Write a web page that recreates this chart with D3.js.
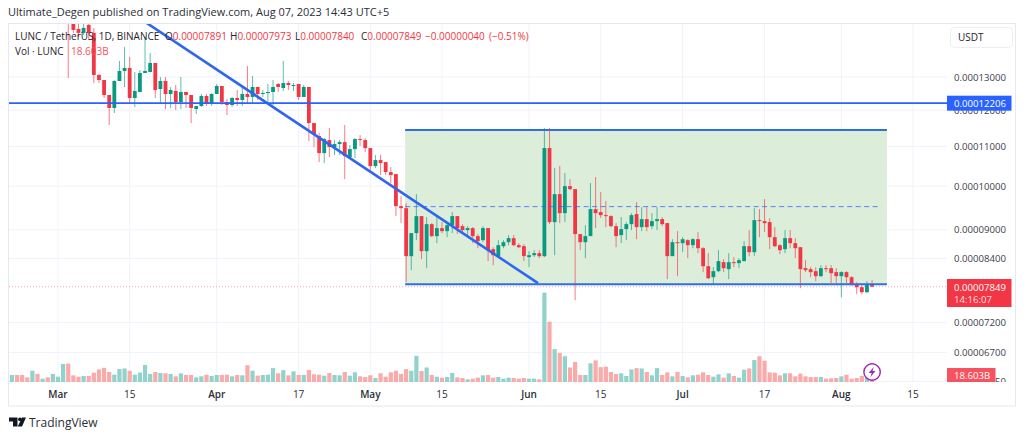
<!DOCTYPE html>
<html><head><meta charset="utf-8">
<script src="https://cdn.jsdelivr.net/npm/d3@7"></script>
<style>html,body{margin:0;padding:0;background:#fff;overflow:hidden}svg{display:block}text{font-family:"Open Sans","Noto Sans",sans-serif}</style>
</head><body>
<script>
// prices are in units of 0.00000001 USDT; days count from 1 March 2023
const firstCandleDay = 2, firstVolumeDay = -9;
const opens = [15300,15200,14594,14455,14736,14455,13063,12906,12449,12066,
12875,13189,13285,12360,12540,13126,13158,13446,12630,12875,
12479,12570,12241,12540,12449,12036,12124,12419,12212,12479,
12722,12241,12153,12360,12300,12479,12390,12691,12479,12509,
12540,12783,12661,12813,12722,12783,12390,12691,11637,11278,
10826,11170,10983,11063,11116,10722,10930,11197,11170,10957,
10492,10645,10594,10341,10292,9528,9482,8448,8929,9302,
8550,9124,8865,9037,8972,9102,9302,9080,8994,9037,
8865,8779,9037,8591,8448,8653,8737,8822,8674,8653,
8428,8468,8509,8448,10957,9169,9808,9369,9998,9927,
8908,8737,8865,9460,9392,9324,9302,9080,8886,9016,
9124,9347,9059,9235,9080,9191,9235,9147,8448,8737,
8716,8779,8674,8800,8611,8246,8031,8148,8327,8188,
8327,8307,8347,8653,8529,9213,9191,9169,8843,8674,
8591,8822,8716,8632,8207,8188,8148,8051,8207,8207,
8129,8051,8129,8031,7897,7840,7746,7891];
const highs = [15500,15400,14800,14806,14900,14630,13100,12906,12449,12900,
13511,13974,13641,13158,13221,14315,13773,13446,13000,13000,
12691,12752,13000,12540,12449,12124,12479,12479,12510,12783,
12722,12330,12390,12600,12661,13349,13031,12691,12600,12783,
12906,12813,13511,12875,12813,12783,12752,12691,11637,11360,
11224,11498,11170,11170,11581,11036,11224,11305,11224,10957,
10774,10774,10594,10467,10292,9761,9597,8929,9808,9302,
9280,9147,9280,9169,9169,9392,9302,9124,9080,9059,
8908,9080,9037,8632,8779,8779,8886,8886,8716,8695,
8550,8570,8570,11498,11498,10441,10492,10316,10168,9927,
8908,9102,10071,10218,9855,9644,9324,9147,9280,9169,
9369,9621,9505,9505,9369,9505,9280,9147,8800,8972,
8843,8800,8822,8951,8632,8509,8227,8570,8387,8509,
8428,8408,8758,8994,9482,9460,9690,9258,9059,8695,
8994,8994,8822,8632,8367,8227,8227,8266,8266,8266,
8207,8148,8148,8051,7935,7897,7954,7973];
const lows = [12969,14455,14315,14385,14213,12813,12813,12360,11581,11921,
12875,12691,12212,12095,12540,13126,13158,12360,12212,12036,
12066,12007,12036,12066,11637,11892,12095,12124,12124,12479,
12153,11863,12095,12124,12124,12182,12212,12300,12390,12212,
12153,12540,12570,12600,12570,12300,12390,11143,10983,10594,
10568,10722,10774,10774,10168,10697,10697,11010,10852,10341,
10441,10267,10267,10071,9302,9147,7935,8168,8779,8387,
8207,8843,8716,8929,8843,8929,8908,8951,8886,8716,
8611,8737,8347,8266,8448,8611,8674,8653,8611,8347,
8227,8428,8408,8428,9124,8468,9147,9169,9903,7598,
8570,8408,8865,9037,9258,9059,9059,8632,8716,8779,
8994,8800,8972,8972,9016,8994,9080,7992,8448,8051,
8529,8408,8611,8509,8129,7992,7897,8129,8129,7992,
8227,8207,8347,8448,8448,8843,8951,8591,8632,8488,
8509,8611,8408,7821,8129,8031,7954,8031,8129,7916,
7916,7653,7916,7878,7708,7708,7727,7840];
const closes = [14850,14559,14455,14630,14455,13063,12906,12449,12066,12875,
13189,13285,12360,12570,13126,13189,13446,12600,12875,12479,
12600,12241,12540,12449,12066,12124,12419,12212,12479,12722,
12241,12153,12360,12300,12479,12390,12691,12479,12509,12540,
12691,12691,12813,12752,12752,12390,12691,11637,11332,10826,
11197,10983,11063,11116,10748,10930,11197,11170,10957,10492,
10645,10568,10341,10267,9528,9482,8448,8929,9302,8550,
9124,8865,9037,8972,9102,9302,9037,8994,9037,8865,
8758,9037,8570,8468,8674,8737,8822,8674,8632,8448,
8468,8509,8448,10957,9169,9808,9369,9998,9927,8908,
8737,8865,9460,9369,9324,9302,9080,8865,9016,9124,
9324,9059,9235,9059,9191,9235,9124,8448,8737,8716,
8800,8674,8800,8611,8246,8012,8148,8347,8207,8327,
8307,8367,8653,8529,9213,9191,9147,8843,8653,8570,
8822,8716,8611,8188,8168,8129,8051,8207,8188,8109,
8051,8129,8031,7878,7840,7746,7891,7849];
// volume in billions, from firstVolumeDay
const volumes = [21.7,21.7,21.7,14.5,35,25,10.3,14.5,25,16.5,56,
57,20.7,16.5,18.6,18.6,29,39,44,31,22.7,
40,42,35,22.7,29,53,25,31,28,27,
25,17.6,27,21.7,21.7,14.5,17.6,22.7,18.6,21.7,
21.7,22.7,17.6,21.7,20.7,52,35,19.6,21.7,22.7,
43,27,37,20.7,33,21.7,21.7,37,23.8,22.7,
19.6,28,21.7,20.7,31,19.6,30,17.6,15.5,20.7,
12.4,27,16.5,30,35,25,40,35,81,34,
45,21.7,16.5,13.4,15.5,28,14.5,12.4,8.3,10.3,
13.4,20.7,21.7,13.4,15.5,10.3,13.4,12.4,10.3,12.4,
10.3,10.3,8.3,277,187,102,90,80,45,62,
21.7,21.7,58,67,46,47.5,31,25,27,18.6,
39,43,42,31,20.7,43,21.7,30,17.6,31,
18.6,14.5,20.7,22.7,30,21.7,16.5,23.8,13.4,27,
18.6,13.4,38,42,68,80,66,30,29,20.7,
27,27,17.6,26,17.6,15.5,15.5,15.5,10.3,11.4,
12.4,17.6,22.7,10.3,12.4,18.6,21.7,18.603];
const earlyVolumeUp = [1,0,0,0,1,0,1,0,1,1,1];
const priceTicks = [13000,12000,11000,10000,9000,8400,7200,6700,6250];
const timeTickDays = [0,14,31,47,61,75,92,106,122,138,153,167];
const timeTickLabels = ["Mar","15","Apr","17","May","15","Jun","15","Jul","17","Aug","15"];
const monthLabels = ["Mar","Apr","May","Jun","Jul","Aug"];
const resistancePrice = 12206, lastPrice = 7849;
const rangeBox = {d0:67.8, d1:161.9, top:11442, bottom:7897, mid:9517, d2:160.8};
const trendLine = [{d:17,p:14843},{d:93.75,p:7916}];
const legendValues = [["O","0.00007891",165],["H","0.00007973",230],["L","0.00007840",295],["C","0.00007849",361]];

const W=1024,H=437, paneL=9, paneR=947, paneT=24, paneB=382;
const UP="#089981", DOWN="#F23645", BLUE="#2962FF";
const priceText=p=>"0."+String(p).padStart(8,"0");
const x=d3.scaleLinear().domain([0,159]).range([58,58+5.12*159]);
const y=d3.scaleLog().domain([13000,6700]).range([77,352.5]);
const vy=d3.scaleLinear().domain([0,276]).range([382,293]);

const svg=d3.select("body").append("svg").attr("width",W).attr("height",H);
svg.append("rect").attr("width",W).attr("height",H).attr("fill","#fff");
const defs=svg.append("defs");
defs.append("clipPath").attr("id","pane").append("rect").attr("x",paneL).attr("y",paneT).attr("width",paneR-paneL).attr("height",paneB-paneT);
defs.append("clipPath").attr("id","axis").append("rect").attr("x",paneR).attr("y",paneT).attr("width",68).attr("height",paneB-paneT);

svg.append("text").attr("x",8).attr("y",16).attr("font-size",11).attr("fill","#2a2e39")
  .text("Ultimate_Degen published on TradingView.com, Aug 07, 2023 14:43 UTC+5");
svg.append("rect").attr("x",8.5).attr("y",23.5).attr("width",1007).attr("height",382.5).attr("fill","none").attr("stroke","#e6e8ef");

const pane=svg.append("g").attr("clip-path","url(#pane)");
// grid
pane.selectAll("line.h").data(priceTicks).join("line").attr("x1",paneL).attr("x2",paneR)
  .attr("y1",d=>y(d)).attr("y2",d=>y(d)).attr("stroke","#f0f3fa");
pane.selectAll("line.v").data(timeTickDays).join("line").attr("y1",paneT).attr("y2",paneB)
  .attr("x1",d=>x(d)).attr("x2",d=>x(d)).attr("stroke","#f0f3fa");
// range box
pane.append("rect").attr("x",x(rangeBox.d0)).attr("width",x(rangeBox.d1)-x(rangeBox.d0))
  .attr("y",y(rangeBox.top)).attr("height",y(rangeBox.bottom)-y(rangeBox.top)).attr("fill","#dcedda");
// volume
const volUp=(v,i)=>{const d=i+firstVolumeDay; if(d<firstCandleDay) return earlyVolumeUp[i]; const k=d-firstCandleDay; return closes[k]>=opens[k];};
pane.selectAll("rect.vol").data(volumes).join("rect")
  .attr("x",(v,i)=>x(i+firstVolumeDay)-2.1).attr("width",4.2)
  .attr("y",v=>vy(v)).attr("height",v=>vy(0)-vy(v))
  .attr("fill",(v,i)=>volUp(v,i)?"#92d2cc":"#f9aaa9");
// last price dotted line
pane.append("line").attr("x1",paneL).attr("x2",paneR).attr("y1",y(lastPrice)).attr("y2",y(lastPrice))
  .attr("stroke",DOWN).attr("stroke-opacity",.45).attr("stroke-dasharray","1 2");
// candles
const candles=opens.map((o,i)=>({d:i+firstCandleDay,o,h:highs[i],l:lows[i],c:closes[i]}));
const col=c=>c.c>=c.o?UP:DOWN;
pane.selectAll("line.wick").data(candles).join("line").attr("x1",c=>x(c.d)).attr("x2",c=>x(c.d))
  .attr("y1",c=>y(c.h)).attr("y2",c=>y(c.l)).attr("stroke",col).attr("stroke-opacity",.65).attr("stroke-width",1);
pane.selectAll("rect.body").data(candles).join("rect").attr("x",c=>x(c.d)-1.9).attr("width",3.8)
  .attr("y",c=>y(Math.max(c.o,c.c))).attr("height",c=>Math.max(1,Math.abs(y(c.o)-y(c.c)))).attr("fill",col);
// drawings
pane.append("line").attr("x1",x(rangeBox.d0)).attr("x2",x(rangeBox.d2)).attr("y1",y(rangeBox.mid)).attr("y2",y(rangeBox.mid))
  .attr("stroke",BLUE).attr("stroke-opacity",.75).attr("stroke-dasharray","5 3.5");
pane.selectAll("line.box").data([rangeBox.top,rangeBox.bottom]).join("line")
  .attr("x1",x(rangeBox.d0)).attr("x2",x(rangeBox.d1)).attr("y1",d=>y(d)).attr("y2",d=>y(d))
  .attr("stroke","#2f6fe4").attr("stroke-width",2);
pane.append("line").attr("x1",x(trendLine[0].d)).attr("y1",y(trendLine[0].p)).attr("x2",x(trendLine[1].d)).attr("y2",y(trendLine[1].p))
  .attr("stroke","#2f66ee").attr("stroke-width",2.6);
pane.append("line").attr("x1",paneL).attr("x2",paneR).attr("y1",y(resistancePrice)).attr("y2",y(resistancePrice))
  .attr("stroke",BLUE).attr("stroke-width",1.8);

// volume lightning icon
const bolt=svg.append("g").attr("transform",`translate(${x(159)},372)`);
bolt.append("circle").attr("r",8.2).attr("fill","#fff").attr("fill-opacity",.85).attr("stroke","#9c27b0").attr("stroke-width",1.4);
bolt.append("path").attr("d","M1.6-5 L-3.4 1 H-0.4 L-1.6 5 L3.4-1 H0.4 Z").attr("fill","#9c27b0");

// legend
const lg=svg.append("g").attr("font-size",10).attr("fill","#1f2330");
lg.append("text").attr("x",15).attr("y",40).text("LUNC / TetherUS, 1D, BINANCE");
legendValues.forEach(([k,v,px])=>{
  const t=lg.append("text").attr("x",px).attr("y",40);
  t.append("tspan").text(k); t.append("tspan").attr("fill",DOWN).text(v);
});
lg.append("text").attr("x",425).attr("y",40).attr("fill",DOWN).text("−0.00000040");
lg.append("text").attr("x",489).attr("y",40).attr("fill",DOWN).text("(−0.51%)");
lg.append("text").attr("x",15).attr("y",55).text("Vol · LUNC");
lg.append("text").attr("x",71).attr("y",55).attr("fill","#f7525f").text("18.603B");

// price axis
const ax=svg.append("g").attr("clip-path","url(#axis)");
ax.selectAll("text").data(priceTicks).join("text").attr("x",954).attr("y",d=>y(d)+3.6)
  .attr("font-size",9.6).attr("fill","#3a3e4a").text(priceText);
svg.append("rect").attr("x",950.5).attr("y",27.5).attr("width",62).attr("height",20).attr("rx",4).attr("fill","#fff").attr("stroke","#eceef3");
svg.append("text").attr("x",958).attr("y",41).attr("font-size",10).attr("fill","#1f2330").text("USDT");
svg.append("rect").attr("x",947).attr("y",y(resistancePrice)-7.5).attr("width",64.5).attr("height",15).attr("fill",BLUE);
svg.append("text").attr("x",954).attr("y",y(resistancePrice)+3.6).attr("font-size",9.6).attr("fill","#fff").text(priceText(resistancePrice));
svg.append("rect").attr("x",947).attr("y",279).attr("width",64.5).attr("height",28).attr("fill",DOWN);
svg.append("text").attr("x",954).attr("y",291).attr("font-size",9.6).attr("fill","#fff").text(priceText(lastPrice));
svg.append("text").attr("x",954).attr("y",303).attr("font-size",9.6).attr("fill","#fff").attr("fill-opacity",.85).text("14:16:07");
svg.append("rect").attr("x",947).attr("y",368).attr("width",48.5).attr("height",14).attr("fill","#f7525f");
svg.append("text").attr("x",954).attr("y",379).attr("font-size",9.6).attr("fill","#fff").text("18.603B");

// time axis
svg.append("g").selectAll("text").data(timeTickDays).join("text")
  .attr("x",d=>x(d)).attr("y",398).attr("text-anchor","middle").attr("font-size",10)
  .attr("font-weight",(d,i)=>monthLabels.includes(timeTickLabels[i])?600:400)
  .attr("fill","#2a2e39").text((d,i)=>timeTickLabels[i]);

// TradingView mark
const logo=svg.append("g").attr("fill","#131722");
logo.append("path").attr("d","M9 417.5 H17.5 V426.5 H13 V421.5 H9 Z");
logo.append("circle").attr("cx",20).attr("cy",419.3).attr("r",1.9);
logo.append("path").attr("d","M22 417.5 H26 L22 426.5 H17.8 Z");
svg.append("text").attr("x",29).attr("y",427).attr("font-size",12).attr("fill","#2a2e39").text("TradingView");
</script>
</body></html>
